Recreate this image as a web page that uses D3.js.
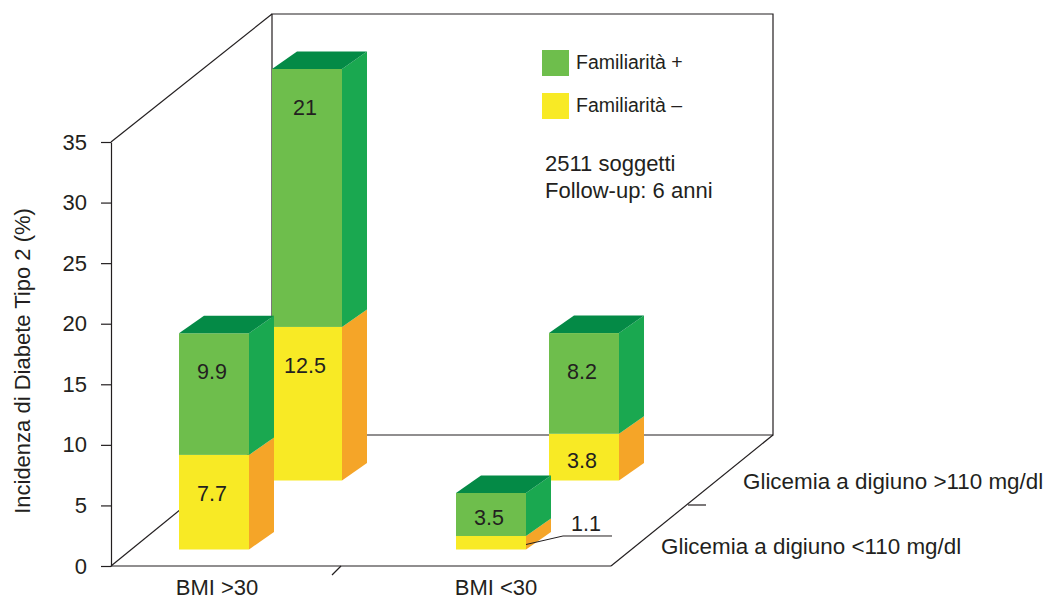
<!DOCTYPE html>
<html lang="it">
<head>
<meta charset="utf-8">
<title>Incidenza di Diabete Tipo 2</title>
<script src="https://cdn.jsdelivr.net/npm/d3@7"></script>
<style>
  html, body { margin: 0; padding: 0; background: #fff; }
  svg { display: block; }
  text { font-family: "Liberation Sans", Arial, sans-serif; fill: #231f20; }
</style>
</head>
<body>
<svg id="chart" width="1046" height="600"></svg>
<script>
// Incidence of type 2 diabetes by BMI, fasting glucose and family history
const bmiGroups = ["BMI >30", "BMI <30"];
const glucoseRows = ["Glicemia a digiuno <110 mg/dl", "Glicemia a digiuno >110 mg/dl"];
const seriesNames = ["Familiarità –", "Familiarità +"];
// One list per BMI group: [<110 row, >110 row]
const familiaritaMeno = [[7.7, 12.5], [1.1, 3.8]];
const familiaritaPiu = [[9.9, 21], [3.5, 8.2]];
const yTicks = [0, 5, 10, 15, 20, 25, 30, 35];
const infoLines = ["2511 soggetti", "Follow-up: 6 anni"];
const yTitle = "Incidenza di Diabete Tipo 2 (%)";

const svg = d3.select("#chart");
const ink = "#231f20";

const faces = {
  "Familiarità +": { front: "#6ebe4c", side: "#1aa850", top: "#048a46" },
  "Familiarità –": { front: "#f8ea25", side: "#f5a528" }
};

// Oblique projection: the floor recedes up and to the right
const y = d3.scaleLinear().domain([0, 35]).range([566, 142]);
const barHeight = d3.scaleLinear().domain([0, 35]).range([0, 430]);
const groupX = d3.scalePoint().domain(bmiGroups).range([179, 456]);
const groupLabelX = d3.scalePoint().domain(bmiGroups).range([217, 496]);
const depth = d3.scalePoint().domain(glucoseRows).range([0, 1]);
const depthDx = d3.scaleLinear().domain([0, 1]).range([0, 93]);
const depthDy = d3.scaleLinear().domain([0, 1]).range([549.5, 480.5]);
const barW = 70, sideDx = 25, sideDy = -17.5;

const pts = a => a.map(p => p.join(",")).join(" ");
const frame = svg.append("g").attr("fill", "none").attr("stroke", ink).attr("stroke-width", 1.2);

// Back wall, left wall edge and floor outline
frame.append("polyline").attr("points", pts([[272, 435], [272, 14], [773, 14], [773, 435], [272, 435]]));
frame.append("line").attr("x1", 111).attr("y1", 142).attr("x2", 272).attr("y2", 14);
frame.append("polyline").attr("points", pts([[111, 566], [272, 435]]));
frame.append("polyline").attr("points", pts([[611, 566], [773, 435]]));
frame.append("line").attr("x1", 111).attr("y1", 566).attr("x2", 611).attr("y2", 566);
// Divider ticks between the categories on each floor edge
frame.append("line").attr("x1", 332).attr("y1", 575).attr("x2", 341).attr("y2", 566);
frame.append("line").attr("x1", 688).attr("y1", 505).attr("x2", 706).attr("y2", 505);

// Vertical axis
const axis = svg.append("g").attr("transform", "translate(111,0)")
  .call(d3.axisLeft(y).tickValues(yTicks).tickSize(10).tickSizeOuter(0).tickPadding(14));
axis.selectAll("path, line").attr("stroke", ink).attr("stroke-width", 1.2);
axis.selectAll("text").attr("font-size", 22).style("font-family", '"Liberation Sans", Arial, sans-serif').attr("fill", ink);

svg.append("text").attr("transform", "translate(30,361) rotate(-90)")
  .attr("text-anchor", "middle").attr("font-size", 22).text(yTitle);

// Flatten the arrays into stacked bars, back row first so nearer bars overlap it
const bars = [];
glucoseRows.slice().reverse().forEach(row => {
  const r = glucoseRows.indexOf(row);
  bmiGroups.forEach((g, i) => bars.push({
    x: groupX(g) + depthDx(depth(row)),
    base: depthDy(depth(row)),
    low: familiaritaMeno[i][r],
    high: familiaritaPiu[i][r]
  }));
});

function drawSegment(layer, b, bottom, value, name, hasTop) {
  const h = barHeight(value), topY = bottom - h, c = faces[name];
  layer.append("rect").attr("x", b.x).attr("y", topY).attr("width", barW).attr("height", h).attr("fill", c.front);
  layer.append("polygon").attr("fill", c.side).attr("points", pts([
    [b.x + barW, topY], [b.x + barW + sideDx, topY + sideDy],
    [b.x + barW + sideDx, bottom + sideDy], [b.x + barW, bottom]]));
  if (hasTop) {
    layer.append("polygon").attr("fill", c.top).attr("points", pts([
      [b.x, topY], [b.x + sideDx, topY + sideDy],
      [b.x + barW + sideDx, topY + sideDy], [b.x + barW, topY]]));
  }
  return topY;
}

function drawLabel(layer, b, topY, value) {
  const h = barHeight(value);
  layer.append("text").attr("x", b.x + 33).attr("y", topY + Math.min(38, h / 2 + 3))
    .attr("dy", "0.36em").attr("text-anchor", "middle").attr("font-size", 21.5).text(value);
}

const barLayer = svg.append("g");
bars.forEach(b => {
  const g = barLayer.append("g");
  const lowTop = drawSegment(g, b, b.base, b.low, seriesNames[0], false);
  const highTop = drawSegment(g, b, lowTop, b.high, seriesNames[1], true);
  drawLabel(g, b, highTop, b.high);
  // The thinnest segment is labelled outside the bar with a leader line
  if (barHeight(b.low) >= 25) {
    drawLabel(g, b, lowTop, b.low);
  } else {
    const ly = lowTop;
    g.append("polyline").attr("fill", "none").attr("stroke", ink).attr("stroke-width", 1)
      .attr("points", pts([[b.x + barW, b.base - 5], [b.x + barW + 37, ly], [b.x + barW + 86, ly]]));
    g.append("text").attr("x", b.x + barW + 60).attr("y", ly - 5).attr("text-anchor", "middle")
      .attr("font-size", 21.5).text(b.low);
  }
});

// Category labels
svg.selectAll(".bmi").data(bmiGroups).join("text").attr("class", "bmi")
  .attr("x", d => groupLabelX(d)).attr("y", 595).attr("text-anchor", "middle")
  .attr("font-size", 22).text(d => d);
svg.append("text").attr("x", 661).attr("y", 554).attr("font-size", 22.4).text(glucoseRows[0]);
svg.append("text").attr("x", 743).attr("y", 489).attr("font-size", 22.4).text(glucoseRows[1]);

// Legend
const legendOrder = [seriesNames[1], seriesNames[0]];
const legendY = d3.scalePoint().domain(legendOrder).range([50, 93]);
svg.selectAll(".swatch").data(legendOrder).join("rect").attr("class", "swatch")
  .attr("x", 542).attr("y", d => legendY(d)).attr("width", 27).attr("height", 26)
  .attr("fill", d => faces[d].front);
svg.selectAll(".legend").data(legendOrder).join("text").attr("class", "legend")
  .attr("x", 576).attr("y", d => legendY(d) + 19).attr("font-size", 19.5).text(d => d);

// Study note
svg.selectAll(".info").data(infoLines).join("text").attr("class", "info")
  .attr("x", 545).attr("y", (d, i) => 171 + i * 27).attr("font-size", 22).text(d => d);
</script>
</body>
</html>
